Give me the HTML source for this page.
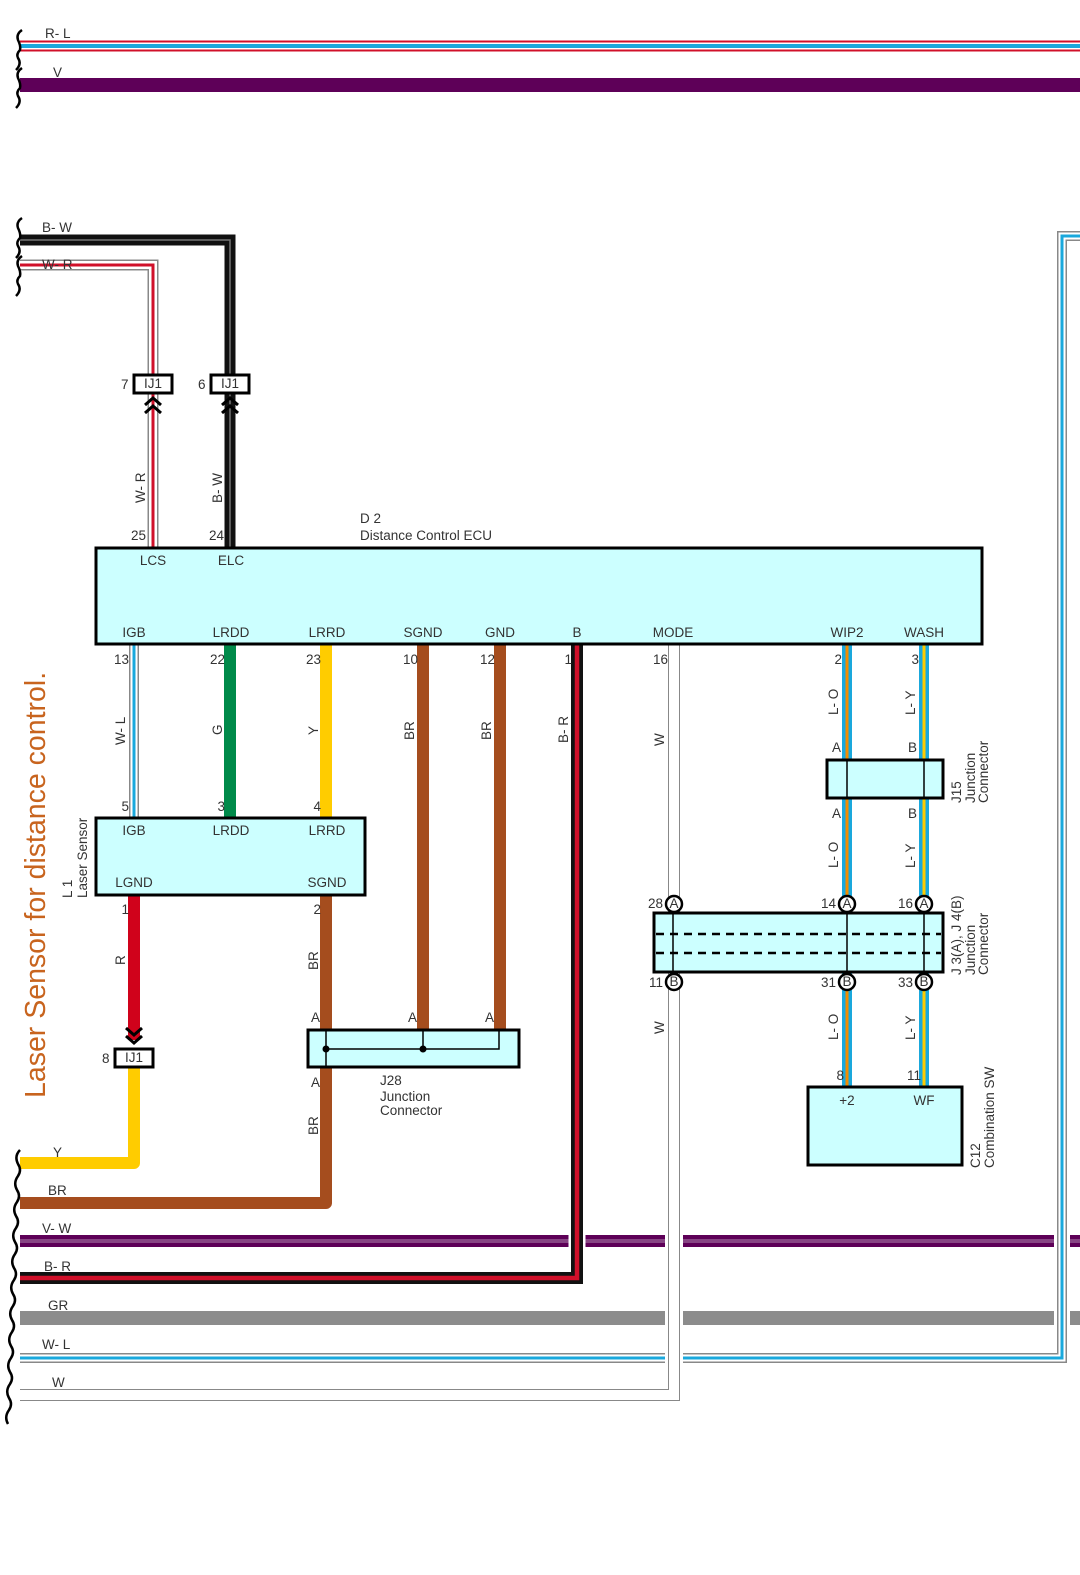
<!DOCTYPE html>
<html><head><meta charset="utf-8"><style>
html,body{margin:0;padding:0;background:#fff;}
svg{display:block;font-family:"Liberation Sans",sans-serif;}
text{fill:#333;font-size:13.5px;}
</style></head><body>
<svg width="1080" height="1575" viewBox="0 0 1080 1575" xmlns="http://www.w3.org/2000/svg">
<g fill="none" stroke-linejoin="miter">
<line x1="20" y1="46" x2="1080" y2="46" stroke="#d0102a" stroke-width="11"/>
<line x1="20" y1="46" x2="1080" y2="46" stroke="#fff" stroke-width="7"/>
<line x1="20" y1="46" x2="1080" y2="46" stroke="#1aa8dc" stroke-width="4"/>
<line x1="20" y1="85" x2="1080" y2="85" stroke="#5e0058" stroke-width="14"/>

<line x1="20" y1="1241" x2="1080" y2="1241" stroke="#5e0058" stroke-width="12"/>
<line x1="20" y1="1241" x2="1080" y2="1241" stroke="#b08ab0" stroke-width="3"/>
<line x1="20" y1="1241" x2="1080" y2="1241" stroke="#5e0058" stroke-width="1"/>
<line x1="20" y1="1318" x2="1080" y2="1318" stroke="#8c8c8c" stroke-width="14"/>

<polyline points="1080,236 1062,236 1062,1358 20,1358" stroke="#fff" stroke-width="16"/>
<polyline points="1080,236 1062,236 1062,1358 20,1358" stroke="#888" stroke-width="10"/>
<polyline points="1080,236 1062,236 1062,1358 20,1358" stroke="#fff" stroke-width="7"/>
<polyline points="1080,236 1062,236 1062,1358 20,1358" stroke="#1aa8dc" stroke-width="3"/>

<polyline points="674,644 674,1395 20,1395" stroke="#fff" stroke-width="18"/>
<polyline points="674,644 674,1395 20,1395" stroke="#888" stroke-width="12"/>
<polyline points="674,644 674,1395 20,1395" stroke="#fff" stroke-width="10"/>

<polyline points="577,644 577,1278 20,1278" stroke="#fff" stroke-width="17"/>
<polyline points="577,644 577,1278 20,1278" stroke="#111" stroke-width="12"/>
<polyline points="577,644 577,1278 20,1278" stroke="#d0102a" stroke-width="4.5"/>

<polyline points="20,240 230,240 230,548" stroke="#111" stroke-width="11"/>
<polyline points="20,240 230,240 230,548" stroke="#777" stroke-width="1.5"/>
<polyline points="20,265 153,265 153,548" stroke="#888" stroke-width="11"/>
<polyline points="20,265 153,265 153,548" stroke="#fff" stroke-width="8"/>
<polyline points="20,265 153,265 153,548" stroke="#d0102a" stroke-width="3"/>

<line x1="134" y1="644" x2="134" y2="818" stroke="#888" stroke-width="10"/>
<line x1="134" y1="644" x2="134" y2="818" stroke="#fff" stroke-width="7"/>
<line x1="134" y1="644" x2="134" y2="818" stroke="#1aa8dc" stroke-width="3"/>
<line x1="230" y1="644" x2="230" y2="818" stroke="#008a4a" stroke-width="12"/>
<line x1="326" y1="644" x2="326" y2="818" stroke="#ffcc00" stroke-width="12"/>
<line x1="423" y1="644" x2="423" y2="1030" stroke="#a54d1e" stroke-width="12"/>
<line x1="500" y1="644" x2="500" y2="1030" stroke="#a54d1e" stroke-width="12"/>
<line x1="847" y1="644" x2="847" y2="1087" stroke="#1aa8dc" stroke-width="10"/>
<line x1="847" y1="644" x2="847" y2="1087" stroke="#f28c00" stroke-width="3"/>
<line x1="924" y1="644" x2="924" y2="1087" stroke="#1aa8dc" stroke-width="10"/>
<line x1="924" y1="644" x2="924" y2="1087" stroke="#ffcc00" stroke-width="3"/>
<line x1="134" y1="895" x2="134" y2="1040" stroke="#d0021b" stroke-width="12"/>
<line x1="326" y1="895" x2="326" y2="1030" stroke="#a54d1e" stroke-width="12"/>
<polyline points="326,1067 326,1203 20,1203" stroke="#a54d1e" stroke-width="12" stroke-linejoin="round"/>
<polyline points="134,1067 134,1163 20,1163" stroke="#ffcc00" stroke-width="12" stroke-linejoin="round"/>

<g stroke="#000" stroke-width="2.5">
<path d="M22,30 q-6,4 -4,10 q3,6 2,10 q-4,4 -2,8 q4,6 -2,12"/>
<path d="M22,68 q-6,4 -4,10 q3,6 2,10 q-4,4 -2,8 q4,6 -2,12"/>
<path d="M22,218 q-6,4 -4,10 q3,6 2,10 q-4,4 -2,8 q4,6 -2,12"/>
<path d="M22,256 q-6,4 -4,10 q3,6 2,10 q-4,4 -2,8 q4,6 -2,12"/>
<path d="M20,1150 q-6,6 -2,14 q4,6 0,12 q-5,7 -1,14 q4,6 0,12 q-5,7 -1,14 q4,6 0,12 q-5,7 -1,14 q4,6 0,12 q-5,7 -1,14 q4,6 0,12 q-5,7 -1,14 q4,6 0,12 q-5,7 -1,14 q4,6 0,12 q-5,7 -1,14 q4,6 0,12 q-5,7 -1,14 q4,6 0,12 q-5,7 -1,14 q4,6 0,12 q-5,7 -1,14"/>
</g>
</g>

<g stroke="#000" stroke-width="3" fill="#fff">
<rect x="134" y="375" width="38" height="18"/>
<rect x="211" y="375" width="38" height="18"/>
<rect x="115" y="1049" width="38" height="18"/>
</g>
<g fill="none" stroke="#000" stroke-width="3">
<polyline points="145,405 153,398 161,405"/><polyline points="145,413 153,406 161,413"/>
<polyline points="222,405 230,398 238,405"/><polyline points="222,413 230,406 238,413"/>
<polyline points="126,1028 134,1035 142,1028"/><polyline points="126,1036 134,1043 142,1036"/>
</g>
<text x="153" y="388" text-anchor="middle" font-size="12">IJ1</text>
<text x="230" y="388" text-anchor="middle" font-size="12">IJ1</text>
<text x="134" y="1062" text-anchor="middle" font-size="12">IJ1</text>
<text x="121" y="389">7</text><text x="198" y="389">6</text><text x="102" y="1063">8</text>

<rect x="96" y="548" width="886" height="96" fill="#ccffff" stroke="#000" stroke-width="3"/>
<g text-anchor="middle">
<text x="153" y="565">LCS</text><text x="231" y="565">ELC</text>
<text x="134" y="637">IGB</text><text x="231" y="637">LRDD</text><text x="327" y="637">LRRD</text>
<text x="423" y="637">SGND</text><text x="500" y="637">GND</text><text x="577" y="637">B</text>
<text x="673" y="637">MODE</text><text x="847" y="637">WIP2</text><text x="924" y="637">WASH</text>
</g>
<text x="360" y="523">D 2</text><text x="360" y="540">Distance Control ECU</text>
<g text-anchor="end">
<text x="146" y="540">25</text><text x="224" y="540">24</text>
<text x="129" y="664">13</text><text x="225" y="664">22</text><text x="321" y="664">23</text>
<text x="418" y="664">10</text><text x="495" y="664">12</text><text x="572" y="664">1</text>
<text x="668" y="664">16</text><text x="842" y="664">2</text><text x="919" y="664">3</text>
<text x="129" y="811">5</text><text x="225" y="811">3</text><text x="321" y="811">4</text>
<text x="129" y="914">1</text><text x="321" y="914">2</text>
<text x="844" y="1080">8</text><text x="921" y="1080">11</text>
</g>

<rect x="96" y="818" width="269" height="77" fill="#ccffff" stroke="#000" stroke-width="3"/>
<g text-anchor="middle">
<text x="134" y="835">IGB</text><text x="231" y="835">LRDD</text><text x="327" y="835">LRRD</text>
<text x="134" y="887">LGND</text><text x="327" y="887">SGND</text>
</g>
<text transform="translate(72,898) rotate(-90)" font-size="12">L 1</text>
<text transform="translate(87,898) rotate(-90)" font-size="12">Laser Sensor</text>

<rect x="308" y="1030" width="211" height="37" fill="#ccffff" stroke="#000" stroke-width="3"/>
<g stroke="#000" stroke-width="1.5" fill="none">
<line x1="326" y1="1030" x2="326" y2="1067"/>
<polyline points="326,1049 499,1049 499,1030"/>
<line x1="423" y1="1030" x2="423" y2="1049"/>
</g>
<circle cx="326" cy="1049" r="3.5"/><circle cx="423" cy="1049" r="3.5"/>
<g font-size="12.5"><text x="311" y="1022">A</text><text x="408" y="1022">A</text><text x="485" y="1022">A</text><text x="311" y="1087">A</text>
<text x="380" y="1085">J28</text><text x="380" y="1101">Junction</text><text x="380" y="1115">Connector</text></g>

<rect x="827" y="760" width="116" height="38" fill="#ccffff" stroke="#000" stroke-width="3"/>
<line x1="847" y1="760" x2="847" y2="798" stroke="#000" stroke-width="1.5"/>
<line x1="924" y1="760" x2="924" y2="798" stroke="#000" stroke-width="1.5"/>
<g font-size="12.5"><text x="832" y="752">A</text><text x="908" y="752">B</text><text x="832" y="818">A</text><text x="908" y="818">B</text></g>
<g font-size="12"><text transform="translate(961,803) rotate(-90)">J15</text><text transform="translate(975,803) rotate(-90)">Junction</text><text transform="translate(988,803) rotate(-90)">Connector</text></g>

<rect x="654" y="913" width="289" height="59" fill="#ccffff" stroke="#000" stroke-width="3"/>
<g stroke="#000" stroke-width="1.5"><line x1="673" y1="913" x2="673" y2="972"/><line x1="847" y1="913" x2="847" y2="972"/><line x1="924" y1="913" x2="924" y2="972"/></g>
<g stroke="#000" stroke-width="2.5" stroke-dasharray="8,6"><line x1="656" y1="934" x2="941" y2="934"/><line x1="656" y1="953" x2="941" y2="953"/></g>
<g fill="#fff" stroke="#000" stroke-width="2.5">
<circle cx="674" cy="904" r="8"/><circle cx="847" cy="904" r="8"/><circle cx="924" cy="904" r="8"/>
<circle cx="674" cy="982" r="8"/><circle cx="847" cy="982" r="8"/><circle cx="924" cy="982" r="8"/>
</g>
<g text-anchor="middle" font-size="11"><text x="674" y="908">A</text><text x="847" y="908">A</text><text x="924" y="908">A</text>
<text x="674" y="986">B</text><text x="847" y="986">B</text><text x="924" y="986">B</text></g>
<g text-anchor="end" font-size="12.5"><text x="663" y="908">28</text><text x="836" y="908">14</text><text x="913" y="908">16</text>
<text x="663" y="987">11</text><text x="836" y="987">31</text><text x="913" y="987">33</text></g>
<g font-size="12"><text transform="translate(961,975) rotate(-90)">J 3(A), J 4(B)</text><text transform="translate(975,975) rotate(-90)">Junction</text><text transform="translate(988,975) rotate(-90)">Connector</text></g>

<rect x="808" y="1087" width="154" height="78" fill="#ccffff" stroke="#000" stroke-width="3"/>
<text x="847" y="1105" text-anchor="middle">+2</text><text x="924" y="1105" text-anchor="middle">WF</text>
<g font-size="12"><text transform="translate(980,1168) rotate(-90)">C12</text><text transform="translate(994,1168) rotate(-90)">Combination SW</text></g>

<g font-size="12.5">
<text x="45" y="38">R- L</text><text x="53" y="77">V</text>
<text x="42" y="232">B- W</text><text x="42" y="269">W- R</text>
<text x="53" y="1157">Y</text><text x="48" y="1195">BR</text><text x="42" y="1233">V- W</text>
<text x="44" y="1271">B- R</text><text x="48" y="1310">GR</text><text x="42" y="1349">W- L</text><text x="52" y="1387">W</text>
</g>
<g font-size="12.5">
<text transform="translate(145,503) rotate(-90)">W- R</text>
<text transform="translate(222,503) rotate(-90)">B- W</text>
<text transform="translate(125,745) rotate(-90)">W- L</text>
<text transform="translate(222,735) rotate(-90)">G</text>
<text transform="translate(318,735) rotate(-90)">Y</text>
<text transform="translate(414,740) rotate(-90)">BR</text>
<text transform="translate(491,740) rotate(-90)">BR</text>
<text transform="translate(568,743) rotate(-90)">B- R</text>
<text transform="translate(664,746) rotate(-90)">W</text>
<text transform="translate(838,715) rotate(-90)">L- O</text>
<text transform="translate(915,715) rotate(-90)">L- Y</text>
<text transform="translate(838,868) rotate(-90)">L- O</text>
<text transform="translate(915,868) rotate(-90)">L- Y</text>
<text transform="translate(125,965) rotate(-90)">R</text>
<text transform="translate(318,970) rotate(-90)">BR</text>
<text transform="translate(318,1135) rotate(-90)">BR</text>
<text transform="translate(664,1034) rotate(-90)">W</text>
<text transform="translate(838,1040) rotate(-90)">L- O</text>
<text transform="translate(915,1040) rotate(-90)">L- Y</text>
</g>

<text transform="translate(45,1098) rotate(-90)" style="fill:#c8641e;font-size:28.5px">Laser Sensor for distance control.</text>
</svg>
</body></html>
